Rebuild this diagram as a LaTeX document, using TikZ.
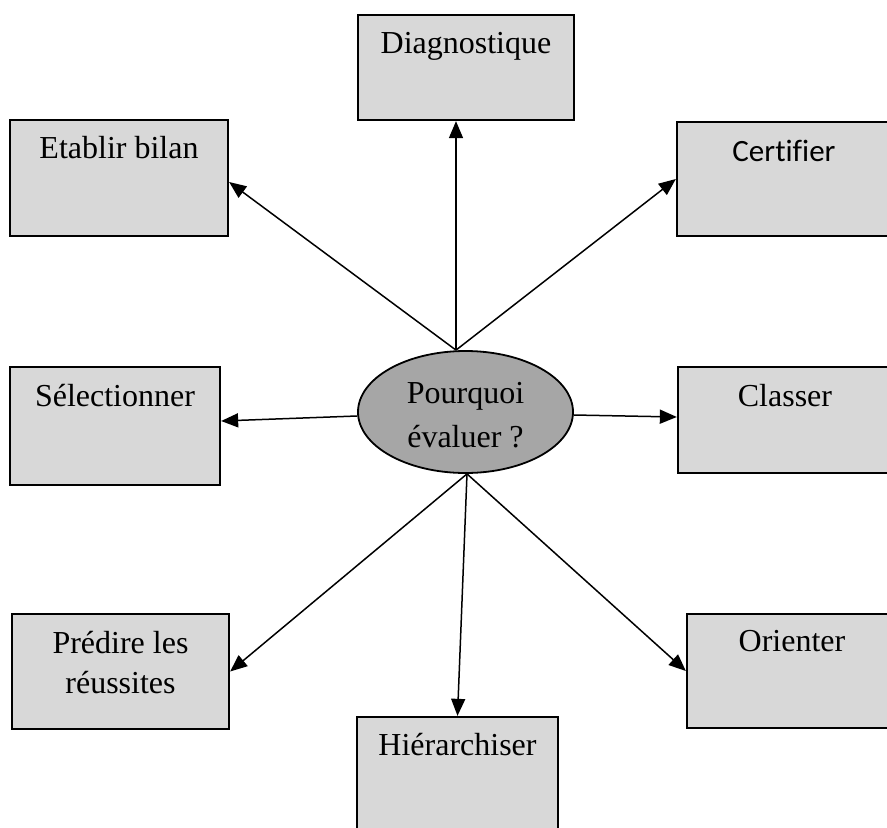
\documentclass[tikz,border=0pt]{standalone}
\usepackage{fontspec}
\setmainfont{Liberation Serif}
\newfontfamily\calibri[Ligatures=NoCommon]{Carlito}
\usetikzlibrary{arrows.meta,calc,shapes.geometric}
\definecolor{boxgray}{HTML}{D8D8D8}
\definecolor{ellgray}{HTML}{A6A6A6}
\tikzset{
  box/.style={draw=black, line width=2.3pt, fill=boxgray, rectangle, inner sep=0pt},
  lbl/.style={font=\fontsize{32}{40}\selectfont, inner sep=0pt, anchor=base},
  conn/.style={line width=1.5pt, -{Triangle[length=17pt,width=14pt]}},
}
\begin{document}
\begin{tikzpicture}[x=1pt,y=-1pt]
\useasboundingbox (0,0) rectangle (887,828);
% boxes
\node[box, minimum width=216pt, minimum height=105pt] (diag) at (466,67.5) {};
\node[box, minimum width=218pt, minimum height=116pt] (bilan) at (119,178) {};
\node[box, minimum width=214pt, minimum height=114pt] (cert) at (784,179) {};
\node[box, minimum width=210pt, minimum height=118pt] (selec) at (115,426) {};
\node[box, minimum width=214pt, minimum height=106pt] (class) at (785,420) {};
\node[box, minimum width=217pt, minimum height=115pt] (pred) at (120.5,671.5) {};
\node[box, minimum width=210pt, minimum height=114pt] (orient) at (792,671) {};
\node[box, minimum width=201pt, minimum height=120pt] (hier) at (457.5,777) {};
% ellipse
\node[draw=black, line width=1.8pt, fill=ellgray, ellipse, inner sep=0pt,
      minimum width=215pt, minimum height=122pt] (ell) at (465.5,412) {};
% labels
\node[lbl] (tdiag) at ($(diag.north)+(0,40)$) {Diagnostique};
\node[lbl] (tbilan) at ($(bilan.north)+(0,40)$) {Etablir bilan};
\node[lbl, font=\calibri\fontsize{31}{40}\selectfont] (tcert) at ($(cert.north)+(0,41)$) {Certifier};
\node[lbl] (tselec) at ($(selec.north)+(0,41)$) {Sélectionner};
\node[lbl] (tclass) at ($(class.north)+(0,41)$) {Classer};
\node[lbl] (tpred) at ($(pred.north)+(0,41)$) {\begin{tabular}[t]{@{}c@{}}Prédire les\\réussites\end{tabular}};
\node[lbl] (torient) at ($(orient.north)+(0,39)$) {Orienter};
\node[lbl] (thier) at ($(hier.north)+(0,40)$) {Hiérarchiser};
\node[lbl, font=\fontsize{32}{44}\selectfont] (tell) at ($(ell.center)+(0,-9)$) {\begin{tabular}[t]{@{}c@{}}Pourquoi\\évaluer ?\end{tabular}};
% start points on the ellipse
\coordinate (ts) at ($(ell.north)+(-9.5,0)$);
\coordinate (bs) at ($(ell.south)+(1.5,0)$);
\coordinate (ls) at ($(ell.west)+(0,4)$);
\coordinate (rs) at ($(ell.east)+(0,3)$);
% connectors
\draw[conn] (ts) -- ($(diag.south)+(-10,0)$);
\draw[conn] (ts) -- ($(bilan.east)+(0,4)$);
\draw[conn] (ts) -- (cert.west);
\draw[conn] (ls) -- ($(selec.east)+(0,-5)$);
\draw[conn] (rs) -- ($(class.west)+(0,-3)$);
\draw[conn] (bs) -- (pred.east);
\draw[conn] (bs) -- (hier.north);
\draw[conn] (bs) -- (orient.west);
\end{tikzpicture}
\end{document}
